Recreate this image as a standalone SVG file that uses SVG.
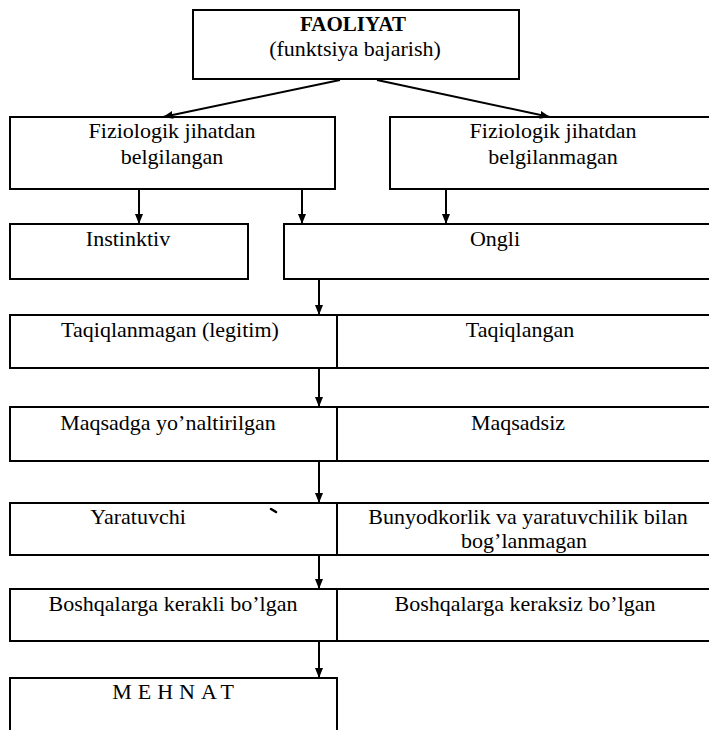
<svg xmlns="http://www.w3.org/2000/svg" width="709" height="730" viewBox="0 0 709 730">
  <style>
    .box { fill: #fff; stroke: #000; stroke-width: 2; }
    .t { font-family: "Liberation Serif", "Times New Roman", serif; font-size: 22px; fill: #000; text-anchor: middle; }
    .b { font-weight: bold; font-size: 21px; }
    .edge { stroke: #000; stroke-width: 2; fill: none; marker-end: url(#arrow); }
  </style>
  <defs>
    <marker id="arrow" markerUnits="userSpaceOnUse" markerWidth="10" markerHeight="10" viewBox="0 0 10 10" refX="10" refY="5" orient="auto">
      <path d="M0,1 L10,5 L0,9 Z" fill="#000"/>
    </marker>
  </defs>
  <rect width="709" height="730" fill="#fff"/>

  <!-- nodes; right-hand cells run past the canvas edge -->
  <g id="faoliyat">
    <rect class="box" x="193" y="10" width="326" height="69"/>
    <text class="t b" x="353" y="31">FAOLIYAT</text>
    <text class="t" x="355" y="56">(funktsiya bajarish)</text>
  </g>
  <g id="fiziologik-belgilangan">
    <rect class="box" x="10" y="117" width="325" height="72"/>
    <text class="t" x="172" y="138">Fiziologik jihatdan</text>
    <text class="t" x="172" y="164">belgilangan</text>
  </g>
  <g id="fiziologik-belgilanmagan">
    <rect class="box" x="390" y="117" width="330" height="72"/>
    <text class="t" x="553" y="138">Fiziologik jihatdan</text>
    <text class="t" x="553" y="164">belgilanmagan</text>
  </g>
  <g id="instinktiv">
    <rect class="box" x="10" y="224" width="238" height="55"/>
    <text class="t" x="128" y="246">Instinktiv</text>
  </g>
  <g id="ongli">
    <rect class="box" x="284" y="224" width="436" height="55"/>
    <text class="t" x="495" y="246">Ongli</text>
  </g>
  <g id="taqiqlanmagan">
    <rect class="box" x="10" y="315" width="327" height="53"/>
    <text class="t" x="170" y="337">Taqiqlanmagan (legitim)</text>
  </g>
  <g id="taqiqlangan">
    <rect class="box" x="337" y="315" width="383" height="53"/>
    <text class="t" x="520" y="337">Taqiqlangan</text>
  </g>
  <g id="maqsadga">
    <rect class="box" x="10" y="407" width="327" height="54"/>
    <text class="t" x="168" y="430">Maqsadga yo’naltirilgan</text>
  </g>
  <g id="maqsadsiz">
    <rect class="box" x="337" y="407" width="383" height="54"/>
    <text class="t" x="518" y="430">Maqsadsiz</text>
  </g>
  <g id="yaratuvchi">
    <rect class="box" x="10" y="503" width="327" height="52"/>
    <text class="t" x="138" y="524">Yaratuvchi</text>
    <path d="M271,509 L276,512" stroke="#000" stroke-width="2.5" stroke-linecap="round"/>
  </g>
  <g id="bunyodkorlik">
    <rect class="box" x="337" y="503" width="383" height="52"/>
    <text class="t" x="528" y="524">Bunyodkorlik va yaratuvchilik bilan</text>
    <text class="t" x="524" y="548">bog’lanmagan</text>
  </g>
  <g id="kerakli">
    <rect class="box" x="10" y="589" width="327" height="52"/>
    <text class="t" x="173" y="611">Boshqalarga kerakli bo’lgan</text>
  </g>
  <g id="keraksiz">
    <rect class="box" x="337" y="589" width="383" height="52"/>
    <text class="t" x="525" y="611">Boshqalarga keraksiz bo’lgan</text>
  </g>
  <g id="mehnat">
    <rect class="box" x="10" y="678" width="327" height="72"/>
    <text class="t" x="176" y="699" font-size="21" letter-spacing="6">MEHNAT</text>
  </g>

  <!-- connectors -->
  <g id="connectors">
    <line class="edge" x1="340" y1="80" x2="163" y2="117"/>
    <line class="edge" x1="377" y1="80" x2="550" y2="117"/>
    <line class="edge" x1="139" y1="189" x2="139" y2="224"/>
    <line class="edge" x1="302" y1="189" x2="302" y2="224"/>
    <line class="edge" x1="446" y1="189" x2="446" y2="224"/>
    <line class="edge" x1="319" y1="279" x2="319" y2="315"/>
    <line class="edge" x1="319" y1="368" x2="319" y2="407"/>
    <line class="edge" x1="319" y1="461" x2="319" y2="503"/>
    <line class="edge" x1="319" y1="555" x2="319" y2="589"/>
    <line class="edge" x1="319" y1="641" x2="319" y2="678"/>
  </g>
</svg>
